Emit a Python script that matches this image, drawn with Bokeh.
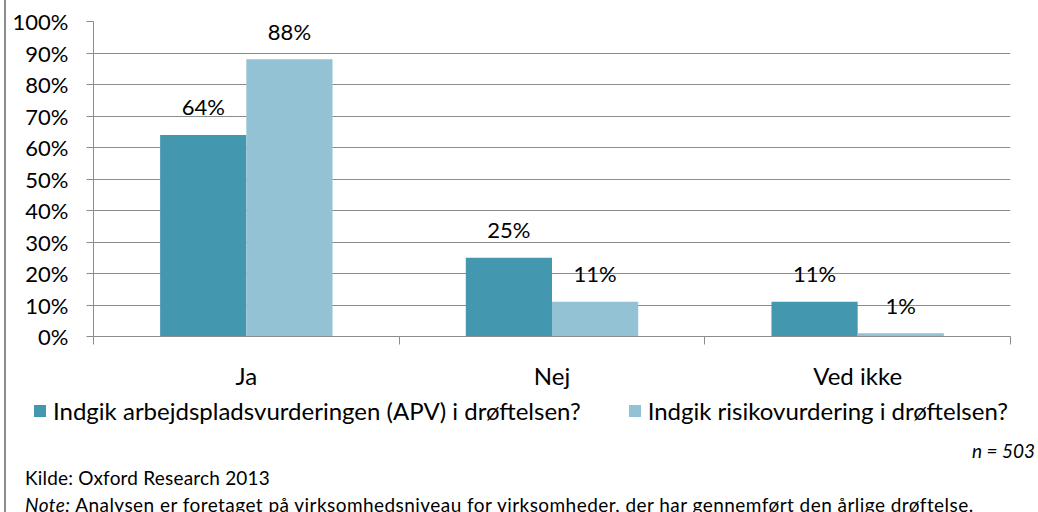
from bokeh.plotting import figure
from bokeh.layouts import column
from bokeh.models import (ColumnDataSource, Range1d, LinearAxis, Div,
                          FixedTicker, NumeralTickFormatter, Legend, LegendItem)
from bokeh.transform import dodge
from bokeh.core.properties import value
from bokeh.embed import file_html
from bokeh.resources import INLINE

categories = ["Ja", "Nej", "Ved ikke"]
apv = [0.64, 0.25, 0.11]
risiko = [0.88, 0.11, 0.01]
series_names = ["Indgik arbejdspladsvurderingen (APV) i drøftelsen?",
                "Indgik risikovurdering i drøftelsen?"]
y_ticks = [0, 0.1, 0.2, 0.3, 0.4, 0.5, 0.6, 0.7, 0.8, 0.9, 1.0]
n_text = "n = 503"
source_text = "Kilde: Oxford Research 2013"
note_label = "Note:"
note_text = "Analysen er foretaget på virksomhedsniveau for virksomheder, der har gennemført den årlige drøftelse."

FONT = "Lato"
DARK = "#4397AF"
LIGHT = "#93C2D4"
GRAY = "#8C8C8C"

centers = [i + 0.5 for i in range(len(categories))]
edges = list(range(len(categories) + 1))

src = ColumnDataSource(dict(
    xc=centers, apv=apv, risiko=risiko,
    apv_lbl=[f"{round(v*100)}%" for v in apv],
    risiko_lbl=[f"{round(v*100)}%" for v in risiko],
))

# ---- main chart ----
p = figure(x_range=Range1d(0, len(categories)), y_range=Range1d(0, 1),
           width=1032, height=392, output_backend="svg", toolbar_location=None,
           x_axis_location=None, y_axis_location=None,
           min_border_left=87, min_border_right=28, min_border_top=21, min_border_bottom=53)
p.frame_align = False
p.outline_line_color = None
p.xgrid.grid_line_color = None
p.ygrid.grid_line_color = GRAY
p.ygrid.ticker = FixedTicker(ticks=y_ticks)

yaxis = LinearAxis(ticker=FixedTicker(ticks=y_ticks), formatter=NumeralTickFormatter(format="0%"),
                   axis_line_color=GRAY, major_tick_line_color=GRAY, major_tick_in=0, major_tick_out=7,
                   minor_tick_line_color=None, major_label_standoff=18,
                   major_label_text_font=FONT, major_label_text_font_size="22px",
                   major_label_text_color="black")
p.add_layout(yaxis, "left")

edge_axis = LinearAxis(ticker=FixedTicker(ticks=edges),
                       axis_line_color=GRAY, major_tick_line_color=GRAY, major_tick_in=0, major_tick_out=8,
                       minor_tick_line_color=None, major_label_text_font_size="0px", major_label_standoff=0)
p.add_layout(edge_axis, "below")
cat_axis = LinearAxis(ticker=FixedTicker(ticks=centers),
                      major_label_overrides={c: lab for c, lab in zip(centers, categories)},
                      axis_line_color=None, major_tick_line_color=None, minor_tick_line_color=None,
                      major_label_text_font=FONT, major_label_text_font_size="24px",
                      major_label_text_color="black", major_label_standoff=10)
p.add_layout(cat_axis, "below")

bw = 0.282
p.vbar(x=dodge("xc", -bw / 2), top="apv", width=bw, source=src,
       fill_color=DARK, line_color=None)
p.vbar(x=dodge("xc", bw / 2), top="risiko", width=bw, source=src,
       fill_color=LIGHT, line_color=None)
p.text(x=dodge("xc", -bw / 2), y="apv", text="apv_lbl", source=src,
       text_align="center", text_baseline="middle", y_offset=-28,
       text_font=value(FONT), text_font_size="22px", text_color="black")
p.text(x=dodge("xc", bw / 2), y="risiko", text="risiko_lbl", source=src,
       text_align="center", text_baseline="middle", y_offset=-28,
       text_font=value(FONT), text_font_size="22px", text_color="black")

# ---- legend strip (keys drawn outside the visible range; only the legend shows) ----
lg = figure(x_range=Range1d(0, 1), y_range=Range1d(0, 1), width=1032, height=38,
            output_backend="svg", toolbar_location=None,
            x_axis_location=None, y_axis_location=None,
            min_border_left=0, min_border_right=0, min_border_top=0, min_border_bottom=0)
lg.frame_align = False
lg.outline_line_color = None
lg.grid.visible = False
key_src = ColumnDataSource(dict(x=[-5], top=[-5]))
k1 = lg.vbar(x="x", top="top", width=0.1, source=key_src, fill_color=DARK, line_color=None)
k2 = lg.vbar(x="x", top="top", width=0.1, source=key_src, fill_color=LIGHT, line_color=None)
legend = Legend(items=[LegendItem(label=series_names[0], renderers=[k1]),
                       LegendItem(label=series_names[1], renderers=[k2])],
                orientation="horizontal", location=(26, 5),
                background_fill_alpha=0, border_line_color=None, padding=0, margin=0,
                spacing=46, glyph_width=15, glyph_height=15, label_standoff=6, label_height=24,
                label_text_font=FONT, label_text_font_size="24px", label_text_color="black")
lg.add_layout(legend, "center")

# ---- footnotes ----
div_html = (
    '<div style="position:relative;width:1032px;height:82px;overflow:hidden;'
    f'font-family:{FONT};font-size:19px;color:#000;line-height:1;">'
    f'<span style="position:absolute;right:3px;top:11px;font-style:italic;white-space:nowrap;">{n_text}</span>'
    f'<span style="position:absolute;left:19px;top:38px;white-space:nowrap;letter-spacing:0.2px;">{source_text}</span>'
    f'<span style="position:absolute;left:19px;top:65px;white-space:nowrap;letter-spacing:0.45px;"><i>{note_label}</i> {note_text}</span>'
    '</div>'
)
div = Div(text=div_html, width=1032, height=82, styles={"overflow": "hidden", "margin": "0"})

layout = column(p, lg, div, spacing=0,
                styles={"margin-left": "4px", "border-left": "2px solid #8C8C8C"})

open("out.html", "w").write(file_html(layout, INLINE))
